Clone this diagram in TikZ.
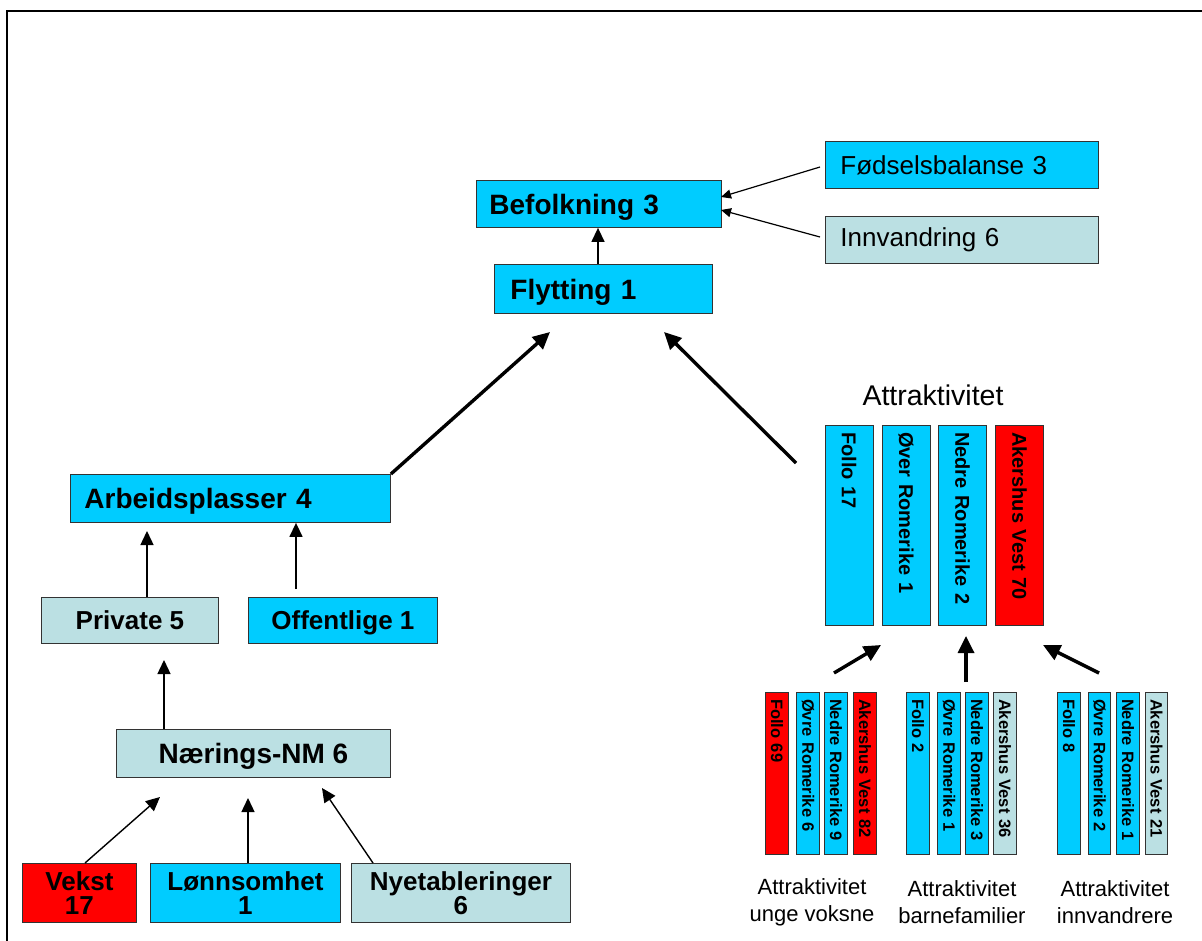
\documentclass[tikz,border=0pt]{standalone}
\usepackage{fontspec}
\setmainfont{Liberation Sans}
\usetikzlibrary{arrows.meta}
\definecolor{cy}{HTML}{00CCFF}
\definecolor{lb}{HTML}{BBE0E3}
\definecolor{rd}{HTML}{FF0000}
\definecolor{edge}{HTML}{333333}
\begin{document}
\begin{tikzpicture}[x=1pt,y=-1pt,
  box/.style={draw=edge, line width=0.9pt, rectangle, inner ysep=0pt, anchor=north west},
  lbox/.style={box, align=left},
  cbox/.style={box, align=center, inner xsep=0pt},
  vbox/.style={draw=edge, line width=0.9pt, rectangle, rotate=-90, align=left, inner ysep=0pt},
  bigb/.style={font=\fontsize{28}{30}\selectfont\bfseries, text height=27pt, text depth=6pt},
  midb/.style={font=\fontsize{26}{24}\selectfont\bfseries},
  regt/.style={font=\fontsize{26}{30}\selectfont},
  thinarr/.style={line width=1.4pt, -{Triangle[length=14pt,width=13pt]}},
  smallarr/.style={line width=1.2pt, -{Triangle[length=10pt,width=9pt]}},
  thickarr/.style={line width=3.4pt, -{Triangle[length=17pt,width=16pt]}},
  lab/.style={align=center, font=\fontsize{22}{27}\selectfont, inner sep=0pt}
]
\useasboundingbox (0,0) rectangle (1202,941);
\fill[white] (0,0) rectangle (1202,941);
% frame
\draw[line width=2.2pt] (7,941) -- (7,11) -- (1202,11);

% top boxes
\node[lbox, bigb, fill=cy, minimum height=47pt, text width=219pt, inner xsep=13pt] (bef) at (476,180) {Befolkning 3};
\node[lbox, bigb, fill=cy, minimum height=49pt, text width=186pt, inner xsep=16pt] (fly) at (494,264) {Flytting 1};
\node[lbox, regt, fill=cy, minimum height=47pt, text width=243pt, inner xsep=15pt] (fod) at (825,141) {Fødselsbalanse 3};
\node[lbox, regt, fill=lb, minimum height=47pt, text width=243pt, inner xsep=15pt] (inn) at (825,216) {Innvandring 6};

% left tree
\node[lbox, bigb, fill=cy, minimum height=48pt, text width=292pt, inner xsep=14pt] (arb) at (70,474) {Arbeidsplasser 4};
\node[cbox, midb, fill=lb, minimum height=46pt, minimum width=177pt] (pri) at (41,597) {Private 5};
\node[cbox, midb, fill=cy, minimum height=46pt, minimum width=189pt, text height=21pt, text depth=3pt] (off) at (248,597) {Offentlige 1};
\node[cbox, bigb, fill=lb, minimum height=48pt, minimum width=274pt] (nar) at (116,729) {Nærings-NM 6};
\node[cbox, midb, fill=rd, minimum height=59pt, minimum width=114pt] (vek) at (22,863) {Vekst\\17};
\node[cbox, midb, fill=cy, minimum height=59pt, minimum width=190pt] (lon) at (150,863) {Lønnsomhet\\1};
\node[cbox, midb, fill=lb, minimum height=59pt, minimum width=219pt] (nye) at (351,863) {Nyetableringer\\6};

% Attraktivitet
\node[font=\fontsize{28.5}{30}\selectfont, inner sep=0pt] (att) at (933,395) {Attraktivitet};
\begin{scope}[every node/.append style={vbox, font=\fontsize{20}{22}\selectfont\bfseries, minimum height=48pt, text width=186pt, inner xsep=7pt}]
\node[fill=cy] (a1) at (849,525) {Follo 17};
\node[fill=cy] (a2) at (906,525) {Øver Romerike 1};
\node[fill=cy] (a3) at (962.5,525) {Nedre Romerike 2};
\node[fill=rd] (a4) at (1019.5,525) {Akershus Vest 70};
\end{scope}
\begin{scope}[every node/.append style={vbox, font=\fontsize{16.5}{18}\selectfont\bfseries, minimum height=22.5pt, text width=148pt, inner xsep=7pt}]
\node[fill=rd] (u1) at (777,773) {Follo 69};
\node[fill=cy] (u2) at (808,773) {Øvre Romerike 6};
\node[fill=cy] (u3) at (836,773) {Nedre Romerike 9};
\node[fill=rd] (u4) at (865,773) {Akershus Vest 82};
\node[fill=cy] (b1) at (918,773) {Follo 2};
\node[fill=cy] (b2) at (949,773) {Øvre Romerike 1};
\node[fill=cy] (b3) at (977,773) {Nedre Romerike 3};
\node[fill=lb] (b4) at (1005,773) {Akershus Vest 36};
\node[fill=cy] (i1) at (1069,773) {Follo 8};
\node[fill=cy] (i2) at (1099.5,773) {Øvre Romerike 2};
\node[fill=cy] (i3) at (1128,773) {Nedre Romerike 1};
\node[fill=lb] (i4) at (1156.5,773) {Akershus Vest 21};
\end{scope}
\node[lab] (lu) at (812,902) {Attraktivitet\\unge voksne};
\node[lab] (lbf) at (962,902) {Attraktivitet\\barnefamilier};
\node[lab] (li) at (1115,902) {Attraktivitet\\innvandrere};

% connector end points
\coordinate (fodS) at (820,167);
\coordinate (innS) at (820,237);
\coordinate (flyL) at (550,332);
\coordinate (flyR) at (664,332);
\coordinate (attS) at (796,463);
\coordinate (arbP) at (147,531);
\coordinate (offS) at (296,589);
\coordinate (priN) at (164,660);
\coordinate (narV) at (160,797);
\coordinate (narL) at (248,798);
\coordinate (narN) at (322,788);
\coordinate (vekS) at (85,863);
\coordinate (nyeS) at (373,863);
\coordinate (g1S) at (834,673);
\coordinate (g1T) at (881,645);
\coordinate (g2S) at (966,682);
\coordinate (g2T) at (966,636);
\coordinate (g3S) at (1099,673);
\coordinate (g3T) at (1043,645);

% connectors
\draw[thinarr] (fly.north -| 598,0) -- (bef.south -| 598,0);
\draw[smallarr] (fodS) -- (721,197);
\draw[smallarr] (innS) -- (721,210);
\draw[thickarr] (arb.north east) -- (flyL);
\draw[thickarr] (attS) -- (flyR);
\draw[thinarr] (pri.north -| 147,0) -- (arbP);
\draw[thinarr] (offS) -- (arb.south -| 296,0);
\draw[thinarr] (nar.north -| 164,0) -- (priN);
\draw[thinarr] (vekS) -- (narV);
\draw[thinarr] (lon.north -| 248,0) -- (narL);
\draw[thinarr] (nyeS) -- (narN);
\draw[thickarr] (g1S) -- (g1T);
\draw[thickarr] (g2S) -- (g2T);
\draw[thickarr] (g3S) -- (g3T);
\end{tikzpicture}
\end{document}
